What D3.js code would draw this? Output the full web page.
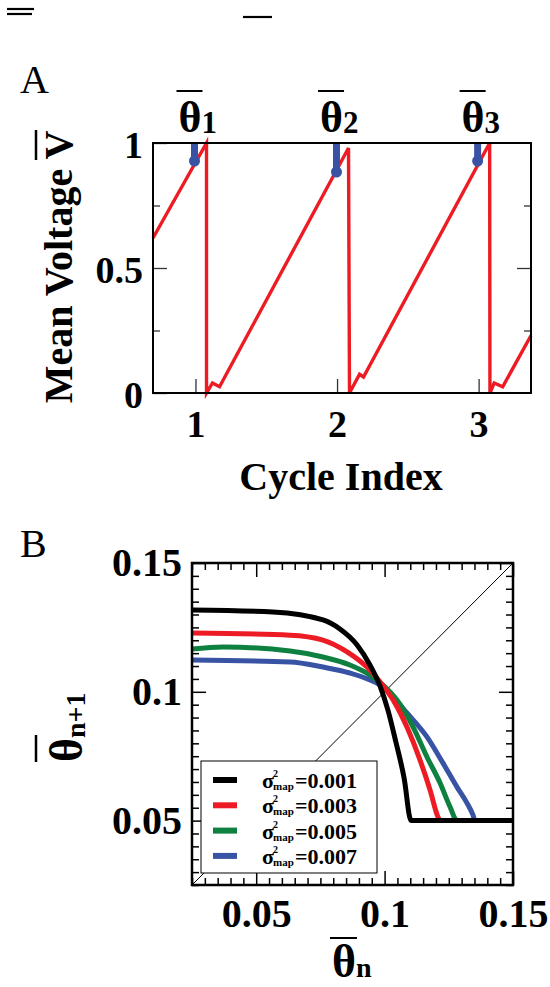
<!DOCTYPE html>
<html>
<head>
<meta charset="utf-8">
<script src="https://cdn.jsdelivr.net/npm/d3@7"></script>
<style>
  body { margin: 0; background: #fff; }
  svg { display: block; }
</style>
</head>
<body>
<div id="chart"></div>
<script>
// ---- panel A : mean voltage sawtooth
var cycleIdx = [0.70, 1.078, 1.078, 1.12, 1.17, 2.081, 2.088, 2.159, 2.187, 3.078, 3.08, 3.11, 3.17, 3.37];
var meanV    = [0.62, 1.0,   0.0,   0.04, 0.025, 0.98, 0.0,   0.075, 0.064, 1.0,   0.0,  0.04, 0.025, 0.23];
var thetaCycle = [0.993, 1.996, 2.993];
var thetaV     = [0.928, 0.884, 0.928];
var thetaNames = ["1", "2", "3"];
var ticksA_x = [1, 2, 3];
var ticksA_y = [0, 0.5, 1];

// ---- panel B : return map, one pair of arrays per sigma^2
var sigmaLabels = ["0.001", "0.003", "0.005", "0.007"];
var thetaN_001 = [0.025, 0.0565, 0.0760, 0.0826, 0.0893, 0.0943, 0.0982, 0.1013, 0.1044, 0.1076, 0.1103, 0.15];
var thetaNext_001 = [0.1318, 0.1310, 0.1279, 0.1244, 0.1182, 0.1104, 0.1023, 0.0929, 0.0805, 0.0665, 0.05, 0.05];
var thetaN_003 = [0.025, 0.0632, 0.0760, 0.0854, 0.0931, 0.0994, 0.1040, 0.1087, 0.1138, 0.1177, 0.1208, 0.1216, 0.15];
var thetaNext_003 = [0.1228, 0.1220, 0.1201, 0.1155, 0.1096, 0.1023, 0.0957, 0.0863, 0.0735, 0.0619, 0.0514, 0.05, 0.05];
var thetaN_005 = [0.025, 0.0371, 0.0632, 0.0760, 0.0865, 0.0943, 0.0994, 0.1048, 0.1111, 0.1165, 0.1216, 0.1255, 0.1282, 0.15];
var thetaNext_005 = [0.1166, 0.1174, 0.1158, 0.1135, 0.1104, 0.1065, 0.1026, 0.0968, 0.0863, 0.0747, 0.0646, 0.0553, 0.05, 0.05];
var thetaN_007 = [0.025, 0.0632, 0.0760, 0.0865, 0.0943, 0.0994, 0.1087, 0.1165, 0.1227, 0.1282, 0.1321, 0.1344, 0.1352, 0.15];
var thetaNext_007 = [0.1123, 0.1116, 0.1096, 0.1073, 0.1046, 0.1019, 0.0918, 0.0825, 0.0724, 0.0630, 0.0568, 0.0522, 0.05, 0.05];
var ticksB = [0.05, 0.1, 0.15];

var serif = "'Liberation Serif', 'Times New Roman', serif";
var red = "#ed1c24", blue = "#3953a4", green = "#0e8040";

var svg = d3.select('#chart').append('svg')
  .attr('width', 550)
  .attr('height', 987)
  .style('background', '#fff');

// stray overline bars at the very top of the figure
[[7, 34, 9], [7, 32, 14], [243, 272, 17]].forEach(function(b) {
  svg.append('line')
    .attr('x1', b[0]).attr('x2', b[1]).attr('y1', b[2]).attr('y2', b[2])
    .attr('stroke', '#000').attr('stroke-width', 2.2);
});

// ================= panel A
var xA = d3.scaleLinear().domain([0.7, 3.37]).range([153, 531]);
var yA = d3.scaleLinear().domain([0, 1]).range([393, 143]);

svg.append('text')
  .attr('x', 20).attr('y', 93)
  .attr('font-family', serif).attr('font-size', 40)
  .text('A');

function styleAxis(g, size) {
  g.select('.domain').remove();
  g.attr('font-family', serif).attr('font-size', size).attr('font-weight', 'bold');
  g.selectAll('text').attr('fill', '#000');
  g.selectAll('line').attr('stroke', '#333').attr('stroke-width', 1.3);
}

svg.append('g')
  .attr('transform', 'translate(153,0)')
  .call(d3.axisLeft(yA).tickValues(ticksA_y).tickSize(-14).tickPadding(10).tickFormat(d3.format('')))
  .call(styleAxis, 38)
  .selectAll('text').attr('dy', '0.38em');
svg.append('g')
  .attr('transform', 'translate(153,0)')
  .call(d3.axisLeft(yA).tickValues([0.25, 0.75]).tickSize(-7).tickFormat(''))
  .call(styleAxis, 38);
svg.append('g')
  .attr('transform', 'translate(531,0)')
  .call(d3.axisRight(yA).tickValues([0.5]).tickSize(-14).tickFormat(''))
  .call(styleAxis, 38);
svg.append('g')
  .attr('transform', 'translate(531,0)')
  .call(d3.axisRight(yA).tickValues([0.25, 0.75]).tickSize(-7).tickFormat(''))
  .call(styleAxis, 38);
svg.append('g')
  .attr('transform', 'translate(0,393)')
  .call(d3.axisBottom(xA).tickValues(ticksA_x).tickSize(-14).tickPadding(17).tickFormat(d3.format('')))
  .call(styleAxis, 38);

var lineA = d3.line()
  .x(function(d, i) { return xA(cycleIdx[i]); })
  .y(function(d) { return yA(d); });

svg.append('path')
  .datum(meanV)
  .attr('d', lineA)
  .attr('fill', 'none')
  .attr('stroke', red)
  .attr('stroke-width', 3.4);

// blue threshold crossings
svg.selectAll('.bar-theta')
  .data(thetaV)
  .enter().append('line')
  .attr('class', 'bar-theta')
  .attr('x1', function(d, i) { return xA(thetaCycle[i]); })
  .attr('x2', function(d, i) { return xA(thetaCycle[i]); })
  .attr('y1', yA(1))
  .attr('y2', function(d) { return yA(d); })
  .attr('stroke', blue)
  .attr('stroke-width', 7);

svg.selectAll('.dot-theta')
  .data(thetaV)
  .enter().append('circle')
  .attr('class', 'dot-theta')
  .attr('cx', function(d, i) { return xA(thetaCycle[i]); })
  .attr('cy', function(d) { return yA(d); })
  .attr('r', 5.5)
  .attr('fill', blue);

svg.append('rect')
  .attr('x', xA.range()[0]).attr('y', yA.range()[1])
  .attr('width', xA.range()[1] - xA.range()[0])
  .attr('height', yA.range()[0] - yA.range()[1])
  .attr('fill', 'none')
  .attr('stroke', '#000')
  .attr('stroke-width', 2);

// theta-bar labels over each cycle
ticksA_x.forEach(function(c, i) {
  var x0 = xA(c) - 17;
  var t = svg.append('text')
    .attr('x', x0).attr('y', 132)
    .attr('font-family', serif).attr('font-weight', 'bold');
  t.append('tspan').attr('font-size', 44).text('θ');
  t.append('tspan').attr('font-size', 31).attr('dy', 1).text(thetaNames[i]);
  svg.append('line')
    .attr('x1', x0 - 2).attr('x2', x0 + 24)
    .attr('y1', 91).attr('y2', 91)
    .attr('stroke', '#000').attr('stroke-width', 2);
});

svg.append('text')
  .attr('transform', 'translate(72,267) rotate(-90)')
  .attr('text-anchor', 'middle')
  .attr('font-family', serif).attr('font-size', 40).attr('font-weight', 'bold')
  .text('Mean Voltage V');
svg.append('line')
  .attr('x1', 36).attr('x2', 36).attr('y1', 130).attr('y2', 160)
  .attr('stroke', '#000').attr('stroke-width', 2.5);

svg.append('text')
  .attr('x', 341).attr('y', 490)
  .attr('text-anchor', 'middle')
  .attr('font-family', serif).attr('font-size', 40).attr('font-weight', 'bold')
  .text('Cycle Index');

// ================= panel B
var xB = d3.scaleLinear().domain([0.025, 0.15]).range([192, 513]);
var yB = d3.scaleLinear().domain([0.025, 0.15]).range([885, 563]);

svg.append('text')
  .attr('x', 20).attr('y', 557)
  .attr('font-family', serif).attr('font-size', 40)
  .text('B');

var minorB = d3.range(0.025, 0.1501, 0.005).filter(function(v) {
  return !ticksB.some(function(m) { return Math.abs(m - v) < 1e-9; });
});

function styleAxisB(g, size) {
  styleAxis(g, size);
  g.selectAll('line').attr('stroke', '#000').attr('stroke-width', 1.5);
}

svg.append('g')
  .attr('transform', 'translate(192,0)')
  .call(d3.axisLeft(yB).tickValues(ticksB).tickSize(-14).tickPadding(10).tickFormat(d3.format('')))
  .call(styleAxisB, 40);
svg.append('g')
  .attr('transform', 'translate(192,0)')
  .call(d3.axisLeft(yB).tickValues(minorB).tickSize(-7).tickFormat(''))
  .call(styleAxisB, 40);
svg.append('g')
  .attr('transform', 'translate(513,0)')
  .call(d3.axisRight(yB).tickValues(ticksB).tickSize(-14).tickFormat(''))
  .call(styleAxisB, 40);
svg.append('g')
  .attr('transform', 'translate(513,0)')
  .call(d3.axisRight(yB).tickValues(minorB).tickSize(-7).tickFormat(''))
  .call(styleAxisB, 40);
svg.append('g')
  .attr('transform', 'translate(0,885)')
  .call(d3.axisBottom(xB).tickValues(ticksB).tickSize(-14).tickPadding(14).tickFormat(d3.format('')))
  .call(styleAxisB, 40);
svg.append('g')
  .attr('transform', 'translate(0,885)')
  .call(d3.axisBottom(xB).tickValues(minorB).tickSize(-7).tickFormat(''))
  .call(styleAxisB, 40);
svg.append('g')
  .attr('transform', 'translate(0,563)')
  .call(d3.axisTop(xB).tickValues(ticksB).tickSize(-14).tickFormat(''))
  .call(styleAxisB, 40);
svg.append('g')
  .attr('transform', 'translate(0,563)')
  .call(d3.axisTop(xB).tickValues(minorB).tickSize(-7).tickFormat(''))
  .call(styleAxisB, 40);

// identity line
svg.append('line')
  .attr('x1', xB(0.025)).attr('y1', yB(0.025))
  .attr('x2', xB(0.15)).attr('y2', yB(0.15))
  .attr('stroke', '#000').attr('stroke-width', 1);

var series = [
  { xs: thetaN_007, ys: thetaNext_007, color: blue,  label: sigmaLabels[3] },
  { xs: thetaN_005, ys: thetaNext_005, color: green, label: sigmaLabels[2] },
  { xs: thetaN_003, ys: thetaNext_003, color: red,   label: sigmaLabels[1] },
  { xs: thetaN_001, ys: thetaNext_001, color: '#000', label: sigmaLabels[0] }
];

series.forEach(function(s) {
  var line = d3.line()
    .x(function(d, i) { return xB(s.xs[i]); })
    .y(function(d) { return yB(d); })
    .curve(d3.curveMonotoneX);
  svg.append('path')
    .datum(s.ys)
    .attr('d', line)
    .attr('fill', 'none')
    .attr('stroke', s.color)
    .attr('stroke-width', 5);
});

svg.append('rect')
  .attr('x', 192).attr('y', 563)
  .attr('width', 321).attr('height', 322)
  .attr('fill', 'none')
  .attr('stroke', '#000')
  .attr('stroke-width', 2.5);

// legend
var legend = svg.append('g').attr('transform', 'translate(201,761)');
legend.append('rect')
  .attr('width', 176).attr('height', 112)
  .attr('fill', '#fff').attr('stroke', '#000').attr('stroke-width', 1);

series.slice().reverse().forEach(function(s, i) {
  var row = legend.append('g').attr('transform', 'translate(0,' + (19 + i * 25.3) + ')');
  row.append('line')
    .attr('x1', 12).attr('x2', 36)
    .attr('stroke', s.color).attr('stroke-width', 6);
  var txt = row.append('text')
    .attr('x', 61).attr('y', 8)
    .attr('font-family', serif).attr('font-weight', 'bold');
  txt.append('tspan').attr('font-size', 22).text('σ');
  txt.append('tspan').attr('x', 72).attr('dy', -11).attr('font-size', 10).text('2');
  txt.append('tspan').attr('x', 72).attr('dy', 13).attr('font-size', 11).text('map');
  txt.append('tspan').attr('x', 94).attr('dy', -2).attr('font-size', 22).text('=' + s.label);
});

// axis titles for panel B
var yl = svg.append('text')
  .attr('transform', 'translate(82,762) rotate(-90)')
  .attr('font-family', serif).attr('font-weight', 'bold');
yl.append('tspan').attr('font-size', 46).text('θ');
yl.append('tspan').attr('font-size', 28).attr('dy', 3).text('n+1');
svg.append('line')
  .attr('x1', 36).attr('x2', 36).attr('y1', 735).attr('y2', 762)
  .attr('stroke', '#000').attr('stroke-width', 2.5);

var xl = svg.append('text')
  .attr('x', 332).attr('y', 977)
  .attr('font-family', serif).attr('font-weight', 'bold');
xl.append('tspan').attr('font-size', 46).text('θ');
xl.append('tspan').attr('font-size', 28).text('n');
svg.append('line')
  .attr('x1', 330).attr('x2', 357).attr('y1', 938).attr('y2', 938)
  .attr('stroke', '#000').attr('stroke-width', 2);
</script>
</body>
</html>
